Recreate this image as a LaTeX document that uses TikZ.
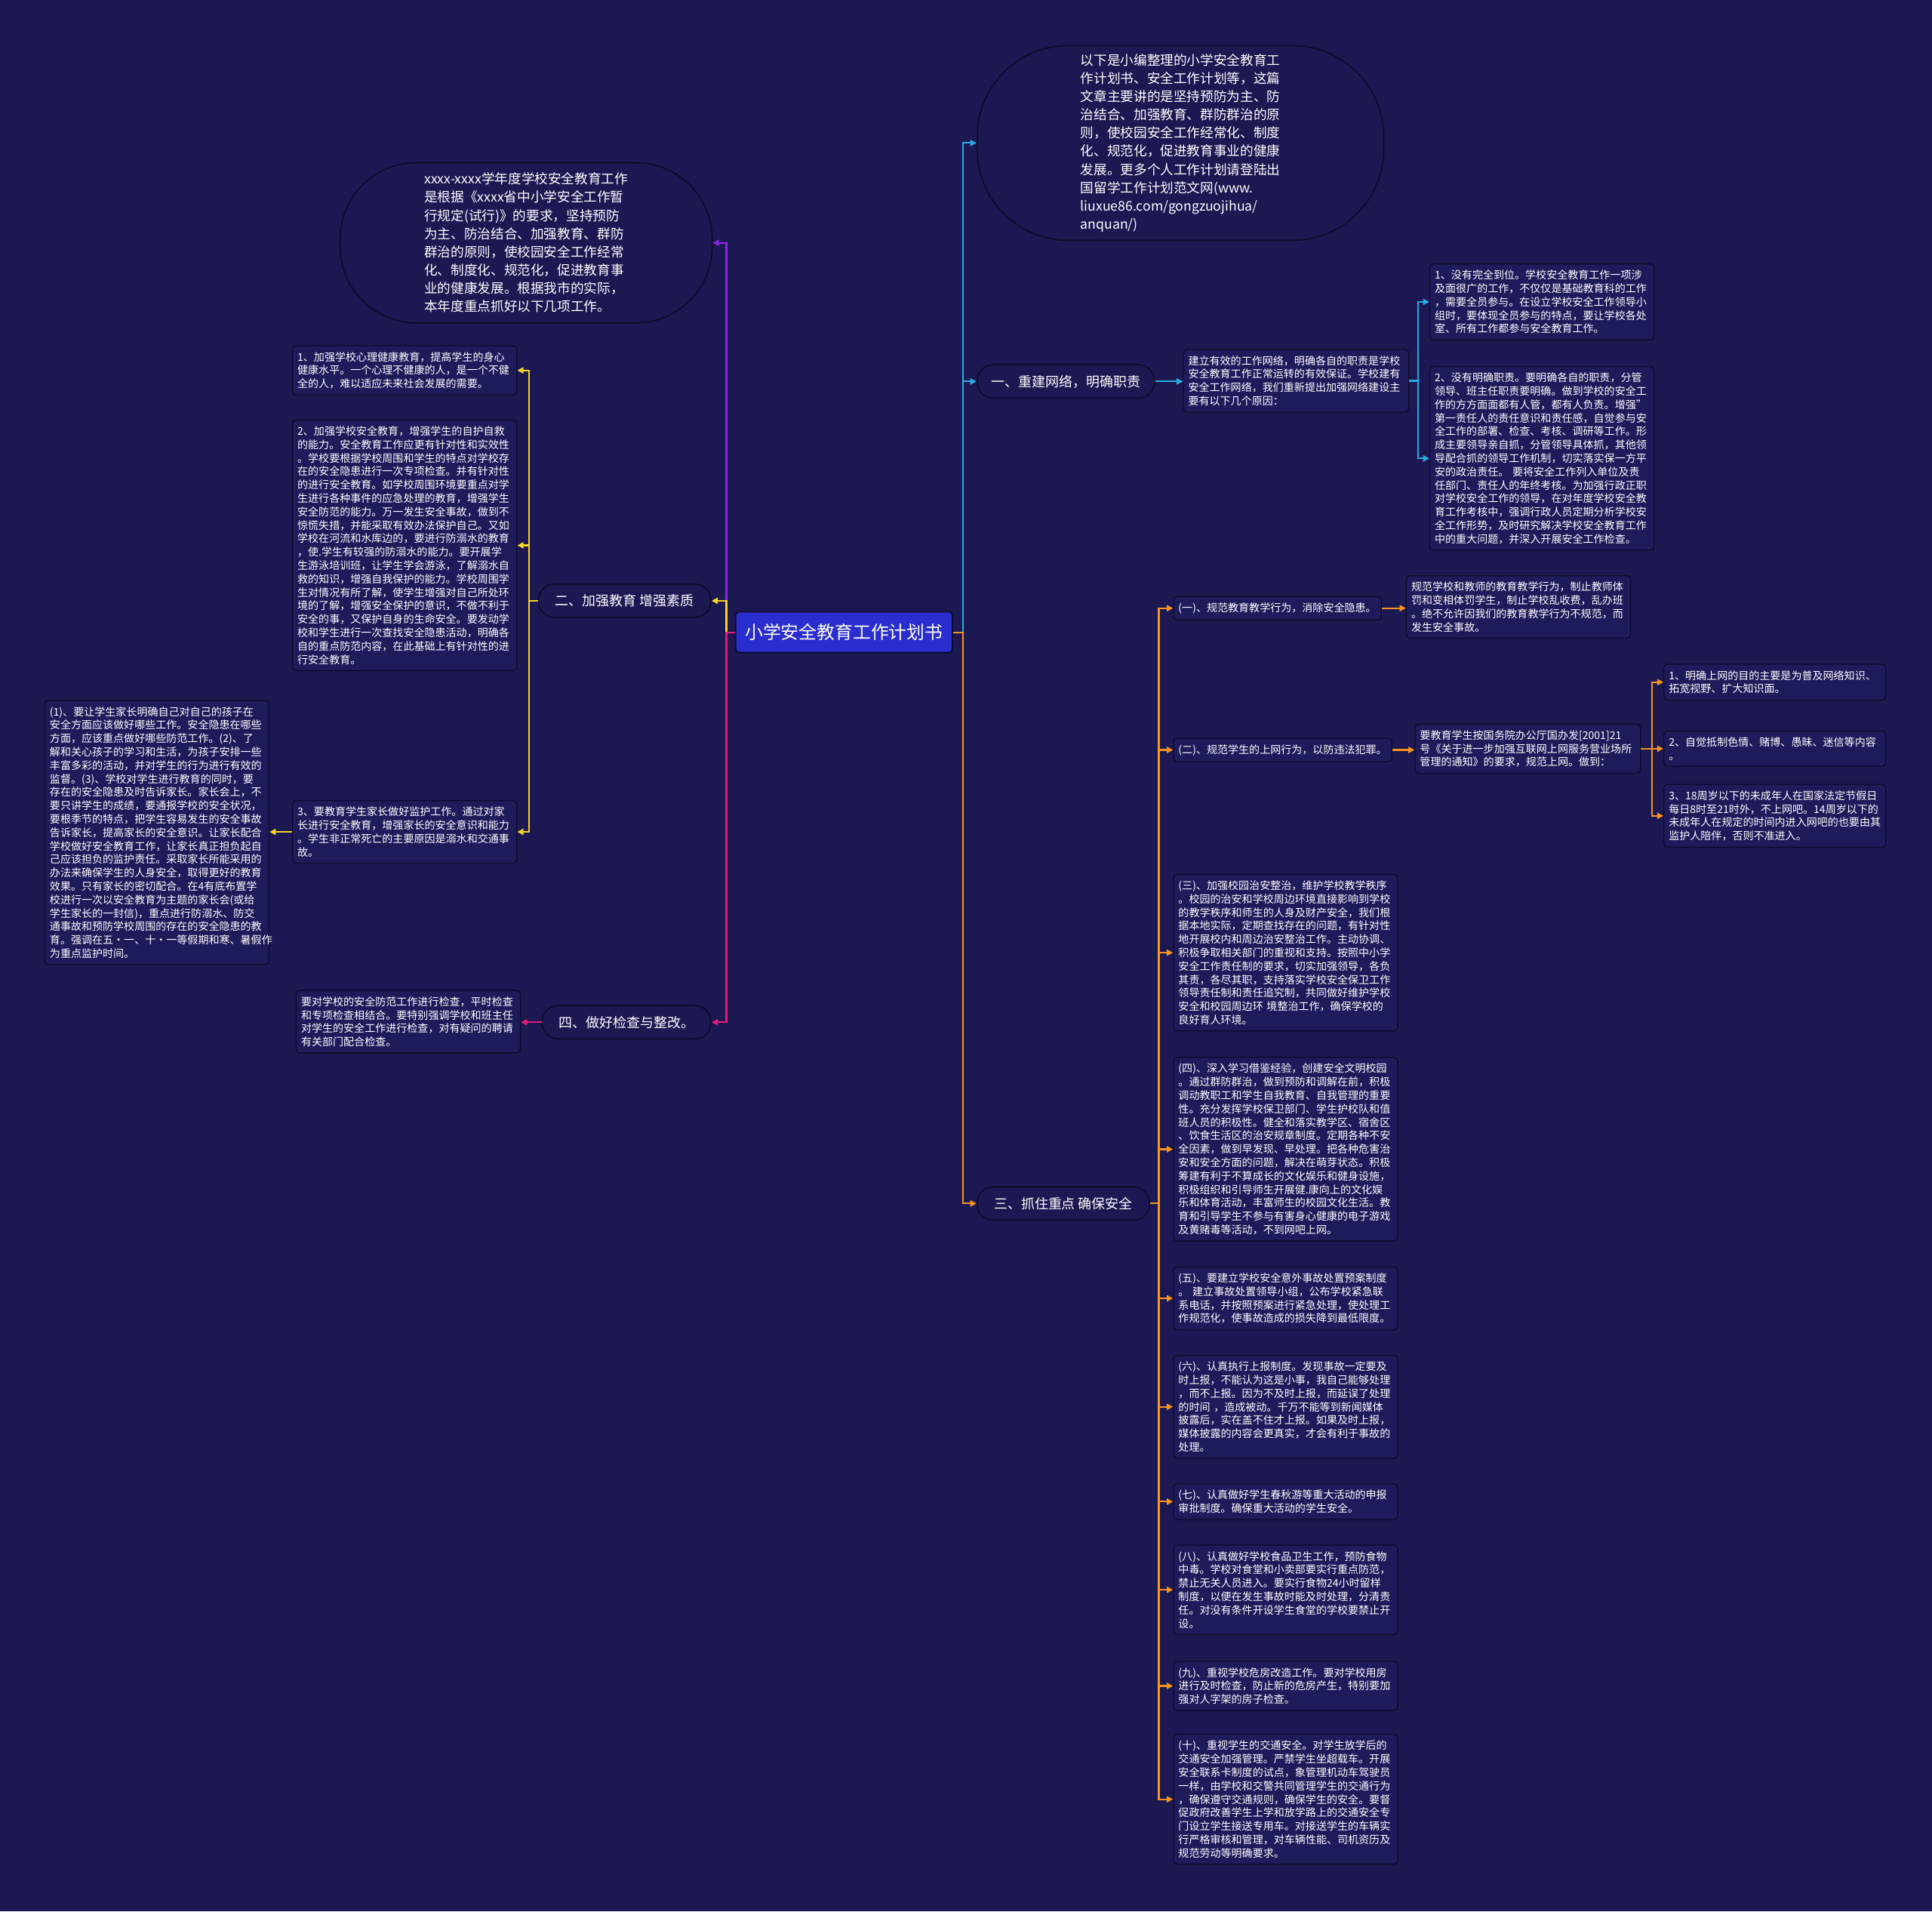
\documentclass[tikz,border=0pt]{standalone}
\usepackage{fontspec}
\setmainfont{Noto Sans CJK SC}
\usetikzlibrary{arrows.meta}
\definecolor{bg}{HTML}{1B1852}
\definecolor{boxfill}{HTML}{1E1B5B}
\definecolor{boxline}{HTML}{0C0A2A}
\definecolor{rootblue}{HTML}{2A2ECF}
\definecolor{linkcyan}{HTML}{29ABE2}
\definecolor{linkorange}{HTML}{F7931E}
\definecolor{linkyellow}{HTML}{F5D327}
\definecolor{linkpink}{HTML}{E5197A}
\definecolor{linkpurple}{HTML}{8E24E8}

\begin{document}
\begin{tikzpicture}[x=1pt,y=-1pt,
   card/.style={draw=boxline,fill=boxfill,rounded corners=3pt,line width=0.8pt,
     text=white,inner xsep=4pt,inner ysep=5pt,anchor=west,
     font=\fontsize{8.6}{10.9}\selectfont},
   textcard/.style={card,align=left,text width=174pt},
   pill/.style={draw=boxline,fill=bg,rounded corners=13pt,line width=1pt,
     text=white,minimum height=27pt,font=\fontsize{11}{13}\selectfont},
   oval/.style={draw=boxline,fill=bg,line width=1pt,text=white,align=left,
     font=\fontsize{10.8}{14.8}\selectfont},
   link/.style={line width=1.3pt,-{Triangle[length=5pt,width=5pt]}}]
   \fill[bg] (0,0) rectangle (1568,1551);
   % root and main branches
   \node[draw=boxline,fill=rootblue,rounded corners=3pt,line width=1pt,text=white,
     minimum width=176pt,minimum height=33pt,font=\fontsize{14.6}{16}\selectfont]
     (root) at (685,513) {小学安全教育工作计划书};
   \node[oval,rounded corners=62pt,minimum width=302pt,minimum height=130pt]
     (intro) at (427,197) {xxxx-xxxx学年度学校安全教育工作\\
     是根据《xxxx省中小学安全工作暂\\
     行规定(试行)》的要求，坚持预防\\
     为主、防治结合、加强教育、群防\\
     群治的原则，使校园安全工作经常\\
     化、制度化、规范化，促进教育事\\
     业的健康发展。根据我市的实际，\\
     本年度重点抓好以下几项工作。};
   \node[oval,rounded corners=74pt,minimum width=330pt,minimum height=158pt]
     (intro2) at (958,116) {以下是小编整理的小学安全教育工\\
     作计划书、安全工作计划等，这篇\\
     文章主要讲的是坚持预防为主、防\\
     治结合、加强教育、群防群治的原\\
     则，使校园安全工作经常化、制度\\
     化、规范化，促进教育事业的健康\\
     发展。更多个人工作计划请登陆出\\
     国留学工作计划范文网(www.\\
     liuxue86.com/gongzuojihua/\\
     anquan/)};
   \node[pill,minimum width=144pt] (b1) at (865,309.5) {一、重建网络，明确职责};
   \node[pill,minimum width=140pt] (b2) at (507,487.5) {二、加强教育 增强素质};
   \node[pill,minimum width=140pt] (b3) at (863,976.5) {三、抓住重点 确保安全};
   \node[pill,minimum width=137pt] (b4) at (508.5,829.5) {四、做好检查与整改。};
   % branch one
   \node[textcard,text width=175pt] (c11) at (960,309) {建立有效的工作网络，明确各自的职责是学校\\
     安全教育工作正常运转的有效保证。学校建有\\
     安全工作网络，我们重新提出加强网络建设主\\
     要有以下几个原因：};
   \node[textcard] (c111) at (1160,245) {1、没有完全到位。学校安全教育工作一项涉\\
     及面很广的工作，不仅仅是基础教育科的工作\\
     ，需要全员参与。在设立学校安全工作领导小\\
     组时，要体现全员参与的特点，要让学校各处\\
     室、所有工作都参与安全教育工作。};
   \node[textcard] (c112) at (1160,372) {2、没有明确职责。要明确各自的职责，分管\\
     领导、班主任职责要明确。做到学校的安全工\\
     作的方方面面都有人管，都有人负责。增强"\\
     第一责任人的责任意识和责任感，自觉参与安\\
     全工作的部署、检查、考核、调研等工作。形\\
     成主要领导亲自抓，分管领导具体抓，其他领\\
     导配合抓的领导工作机制，切实落实保一方平\\
     安的政治责任。 要将安全工作列入单位及责\\
     任部门、责任人的年终考核。为加强行政正职\\
     对学校安全工作的领导，在对年度学校安全教\\
     育工作考核中，强调行政人员定期分析学校安\\
     全工作形势，及时研究解决学校安全教育工作\\
     中的重大问题，并深入开展安全工作检查。};
   % branch two
   \node[textcard] (c21) at (237,300.5) {1、加强学校心理健康教育，提高学生的身心\\
     健康水平。一个心理不健康的人，是一个不健\\
     全的人，难以适应未来社会发展的需要。};
   \node[textcard] (c22) at (237,442.5) {2、加强学校安全教育，增强学生的自护自救\\
     的能力。安全教育工作应更有针对性和实效性\\
     。学校要根据学校周围和学生的特点对学校存\\
     在的安全隐患进行一次专项检查。并有针对性\\
     的进行安全教育。如学校周围环境要重点对学\\
     生进行各种事件的应急处理的教育，增强学生\\
     安全防范的能力。万一发生安全事故，做到不\\
     惊慌失措，并能采取有效办法保护自己。又如\\
     学校在河流和水库边的，要进行防溺水的教育\\
     ，使.学生有较强的防溺水的能力。要开展学\\
     生游泳培训班，让学生学会游泳，了解溺水自\\
     救的知识，增强自我保护的能力。学校周围学\\
     生对情况有所了解，使学生增强对自己所处环\\
     境的了解，增强安全保护的意识，不做不利于\\
     安全的事，又保护自身的生命安全。要发动学\\
     校和学生进行一次查找安全隐患活动，明确各\\
     自的重点防范内容，在此基础上有针对性的进\\
     行安全教育。};
   \node[textcard] (c23) at (237,675) {3、要教育学生家长做好监护工作。通过对家\\
     长进行安全教育，增强家长的安全意识和能力\\
     。学生非正常死亡的主要原因是溺水和交通事\\
     故。};
   \node[textcard] (c231) at (36,675.5) {(1)、要让学生家长明确自己对自己的孩子在\\
     安全方面应该做好哪些工作。安全隐患在哪些\\
     方面，应该重点做好哪些防范工作。(2)、了\\
     解和关心孩子的学习和生活，为孩子安排一些\\
     丰富多彩的活动，并对学生的行为进行有效的\\
     监督。(3)、学校对学生进行教育的同时，要\\
     存在的安全隐患及时告诉家长。家长会上，不\\
     要只讲学生的成绩，要通报学校的安全状况，\\
     要根季节的特点，把学生容易发生的安全事故\\
     告诉家长，提高家长的安全意识。让家长配合\\
     学校做好安全教育工作，让家长真正担负起自\\
     己应该担负的监护责任。采取家长所能采用的\\
     办法来确保学生的人身安全，取得更好的教育\\
     效果。只有家长的密切配合。在4有底布置学\\
     校进行一次以安全教育为主题的家长会(或给\\
     学生家长的一封信)，重点进行防溺水、防交\\
     通事故和预防学校周围的存在的安全隐患的教\\
     育。强调在五•一、十•一等假期和寒、暑假作\\
     为重点监护时间。};
   % branch four
   \node[textcard] (c41) at (240,829) {要对学校的安全防范工作进行检查，平时检查\\
     和专项检查相结合。要特别强调学校和班主任\\
     对学生的安全工作进行检查，对有疑问的聘请\\
     有关部门配合检查。};
   % branch three
   \node[card] (r1) at (952,493.5) {(一)、规范教育教学行为，消除安全隐患。};
   \node[textcard] (r1c) at (1141,492.5) {规范学校和教师的教育教学行为，制止教师体\\
     罚和变相体罚学生，制止学校乱收费，乱办班\\
     。绝不允许因我们的教育教学行为不规范，而\\
     发生安全事故。};
   \node[card] (r2) at (952,608.5) {(二)、规范学生的上网行为，以防违法犯罪。};
   \node[textcard,text width=175pt] (r2c) at (1148,607.5) {要教育学生按国务院办公厅国办发[2001]21\\
     号《关于进一步加强互联网上网服务营业场所\\
     管理的通知》的要求，规范上网。做到：};
   \node[textcard,text width=172pt] (r2c1) at (1350,553.5) {1、明确上网的目的主要是为普及网络知识、\\
     拓宽视野、扩大知识面。};
   \node[textcard,text width=172pt] (r2c2) at (1350,607.5) {2、自觉抵制色情、赌博、愚昧、迷信等内容\\
     。};
   \node[textcard,text width=172pt] (r2c3) at (1350,662) {3、18周岁以下的未成年人在国家法定节假日\\
     每日8时至21时外，不上网吧。14周岁以下的\\
     未成年人在规定的时间内进入网吧的也要由其\\
     监护人陪伴，否则不准进入。};
   \node[textcard] (r3) at (952,773) {(三)、加强校园治安整治，维护学校教学秩序\\
     。校园的治安和学校周边环境直接影响到学校\\
     的教学秩序和师生的人身及财产安全，我们根\\
     据本地实际，定期查找存在的问题，有针对性\\
     地开展校内和周边治安整治工作。主动协调、\\
     积极争取相关部门的重视和支持。按照中小学\\
     安全工作责任制的要求，切实加强领导，各负\\
     其责，各尽其职，支持落实学校安全保卫工作\\
     领导责任制和责任追究制，共同做好维护学校\\
     安全和校园周边环 境整治工作，确保学校的\\
     良好育人环境。};
   \node[textcard] (r4) at (952,932.5) {(四)、深入学习借鉴经验，创建安全文明校园\\
     。通过群防群治，做到预防和调解在前，积极\\
     调动教职工和学生自我教育、自我管理的重要\\
     性。充分发挥学校保卫部门、学生护校队和值\\
     班人员的积极性。健全和落实教学区、宿舍区\\
     、饮食生活区的治安规章制度。定期各种不安\\
     全因素，做到早发现、早处理。把各种危害治\\
     安和安全方面的问题，解决在萌芽状态。积极\\
     筹建有利于不算成长的文化娱乐和健身设施，\\
     积极组织和引导师生开展健.康向上的文化娱\\
     乐和体育活动，丰富师生的校园文化生活。教\\
     育和引导学生不参与有害身心健康的电子游戏\\
     及黄赌毒等活动，不到网吧上网。};
   \node[textcard] (r5) at (952,1053.5) {(五)、要建立学校安全意外事故处置预案制度\\
     。 建立事故处置领导小组，公布学校紧急联\\
     系电话，并按照预案进行紧急处理，使处理工\\
     作规范化，使事故造成的损失降到最低限度。};
   \node[textcard] (r6) at (952,1141.5) {(六)、认真执行上报制度。发现事故一定要及\\
     时上报，不能认为这是小事，我自己能够处理\\
     ，而不上报。因为不及时上报，而延误了处理\\
     的时间 ，造成被动。千万不能等到新闻媒体\\
     披露后，实在盖不住才上报。如果及时上报，\\
     媒体披露的内容会更真实，才会有利于事故的\\
     处理。};
   \node[textcard] (r7) at (952,1218.5) {(七)、认真做好学生春秋游等重大活动的申报\\
     审批制度。确保重大活动的学生安全。};
   \node[textcard] (r8) at (952,1290) {(八)、认真做好学校食品卫生工作，预防食物\\
     中毒。学校对食堂和小卖部要实行重点防范，\\
     禁止无关人员进入。要实行食物24小时留样\\
     制度，以便在发生事故时能及时处理，分清责\\
     任。对没有条件开设学生食堂的学校要禁止开\\
     设。};
   \node[textcard] (r9) at (952,1368) {(九)、重视学校危房改造工作。要对学校用房\\
     进行及时检查，防止新的危房产生，特别要加\\
     强对人字架的房子检查。};
   \node[textcard] (r10) at (952,1460) {(十)、重视学生的交通安全。对学生放学后的\\
     交通安全加强管理。严禁学生坐超载车。开展\\
     安全联系卡制度的试点，象管理机动车驾驶员\\
     一样，由学校和交警共同管理学生的交通行为\\
     ，确保遵守交通规则，确保学生的安全。要督\\
     促政府改善学生上学和放学路上的交通安全专\\
     门设立学生接送专用车。对接送学生的车辆实\\
     行严格审核和管理，对车辆性能、司机资历及\\
     规范劳动等明确要求。};
   % connectors, left side
   \draw[link,linkpurple] (root.west) -- ++(-7,0) |- (intro.east);
   \draw[link,linkyellow] (root.west) -- ++(-7,0) |- (b2.east);
   \draw[link,linkpink] (root.west) -- ++(-7,0) |- (b4.east);
   \foreach \n in {c21,c22,c23}
     \draw[link,linkyellow] (b2.west) -- ++(-7,0) |- (\n.east);
   \draw[link,linkyellow] (c23.west) -- (c23.west -| c231.east);
   \draw[link,linkpink] (b4.west) -- (b4.west -| c41.east);
   % connectors, right side
   \draw[link,linkcyan] (root.east) -- ++(8,0) |- (intro2.west);
   \draw[link,linkcyan] (root.east) -- ++(8,0) |- (b1.west);
   \draw[link,linkorange] (root.east) -- ++(8,0) |- (b3.west);
   \draw[link,linkcyan] (b1.east) -- (b1.east -| c11.west);
   \foreach \n in {c111,c112}
     \draw[link,linkcyan] (c11.east) -- ++(7,0) |- (\n.west);
   \foreach \n in {r1,r2,r3,r4,r5,r6,r7,r8,r9,r10}
     \draw[link,linkorange] (b3.east) -- ++(7,0) |- (\n.west);
   \draw[link,linkorange] (r1.east) -- (r1.east -| r1c.west);
   \draw[link,linkorange] (r2.east) -- (r2.east -| r2c.west);
   \foreach \n in {r2c1,r2c2,r2c3}
     \draw[link,linkorange] (r2c.east) -- ++(9,0) |- (\n.west);
\end{tikzpicture}
\end{document}
